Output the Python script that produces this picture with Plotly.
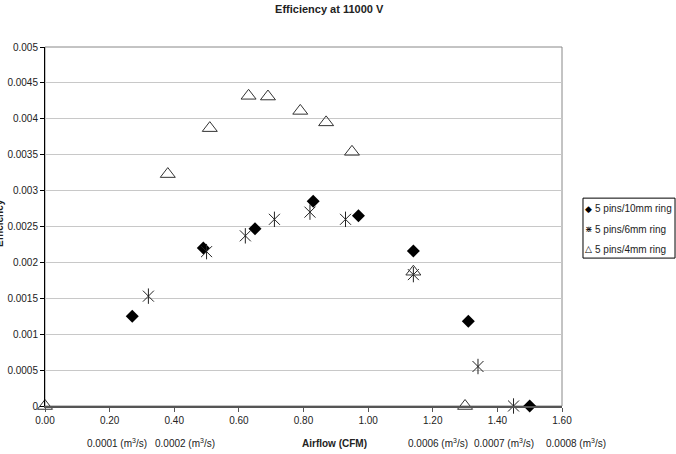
import plotly.graph_objects as go

# Data
x_10mm = [0.27, 0.49, 0.65, 0.83, 0.97, 1.14, 1.31, 1.50]
y_10mm = [0.00125, 0.00220, 0.00247, 0.00285, 0.00265, 0.00216, 0.00118, 0.0]

x_6mm = [0.32, 0.50, 0.62, 0.71, 0.82, 0.93, 1.14, 1.34, 1.45]
y_6mm = [0.00153, 0.00215, 0.00237, 0.00260, 0.00270, 0.00260, 0.00183, 0.00055, 0.0]

x_4mm = [0.00, 0.38, 0.51, 0.63, 0.69, 0.79, 0.87, 0.95, 1.14, 1.30]
y_4mm = [0.0, 0.00323, 0.00387, 0.00432, 0.00431, 0.00411, 0.00395, 0.00354, 0.00187, 0.0]

series_names = ["5 pins/10mm ring", "5 pins/6mm ring", "5 pins/4mm ring"]
legend_symbols = ["◆", "⋇", "△"]

m3s_labels = ["0.0001 (m<sup>3</sup>/s)", "0.0002 (m<sup>3</sup>/s)", "0.0006 (m<sup>3</sup>/s)",
              "0.0007 (m<sup>3</sup>/s)", "0.0008 (m<sup>3</sup>/s)"]
# label positions as fractions of the plot width
m3s_pos = [0.139, 0.271, 0.760, 0.888, 1.027]

x_ticks = [0, 0.2, 0.4, 0.6, 0.8, 1.0, 1.2, 1.4, 1.6]
y_ticks = [0, 0.0005, 0.001, 0.0015, 0.002, 0.0025, 0.003, 0.0035, 0.004, 0.0045, 0.005]

FONT = "Liberation Sans, Arial, sans-serif"

fig = go.Figure()
fig.add_trace(go.Scatter(
    x=x_10mm, y=y_10mm, mode="markers", name=series_names[0],
    marker=dict(symbol="diamond", size=10, color="black"), cliponaxis=False))
fig.add_trace(go.Scatter(
    x=x_6mm, y=y_6mm, mode="markers", name=series_names[1],
    marker=dict(symbol="x-thin-open", size=11, color="#222222", line=dict(width=1, color="#222222")),
    cliponaxis=False))
fig.add_trace(go.Scatter(
    x=x_6mm, y=y_6mm, mode="markers", name=series_names[1],
    marker=dict(symbol="line-ns-open", size=11, color="#222222", line=dict(width=1, color="#222222")),
    cliponaxis=False))
fig.add_trace(go.Scatter(
    x=x_4mm, y=y_4mm, mode="markers", name=series_names[2],
    marker=dict(symbol="triangle-up-open", size=13, color="#333333", line=dict(width=1, color="#333333")),
    cliponaxis=False))

annotations = [
    dict(x=p, y=0, xref="paper", yref="paper", yshift=-37, text=t, showarrow=False,
         font=dict(family=FONT, size=10, color="#222222"), xanchor="center", yanchor="middle")
    for p, t in zip(m3s_pos, m3s_labels)
]
annotations.append(dict(x=0.56, y=0, xref="paper", yref="paper", yshift=-37, text="<b>Airflow (CFM)</b>",
                        showarrow=False, font=dict(family=FONT, size=10, color="#222222"),
                        xanchor="center", yanchor="middle"))
annotations.append(dict(x=0, y=0.51, xref="paper", yref="paper", xshift=-45, text="<b>Efficiency</b>",
                        textangle=-90, showarrow=False, font=dict(family=FONT, size=10, color="#222222"),
                        xanchor="center", yanchor="middle"))

# manual legend (entries in a box to the right of the plot)
leg_y = [0.549, 0.493, 0.437]
for sym, name, yy in zip(legend_symbols, series_names, leg_y):
    annotations.append(dict(x=1.0406, y=yy, xref="paper", yref="paper", xshift=6, text=sym,
                            showarrow=False, xanchor="center", yanchor="middle",
                            font=dict(family="DejaVu Sans", size=9, color="black")))
    annotations.append(dict(x=1.0406, y=yy, xref="paper", yref="paper", xshift=10, text=name,
                            showarrow=False, xanchor="left", yanchor="middle",
                            font=dict(family=FONT, size=10, color="#222222")))

fig.update_layout(
    width=676, height=454,
    margin=dict(l=45, r=114, t=47, b=48, autoexpand=False),
    paper_bgcolor="white", plot_bgcolor="white",
    title=dict(text="<b>Efficiency at 11000 V</b>", x=0.487, xanchor="center", y=0.980, yanchor="middle",
               font=dict(family=FONT, size=11, color="#222222")),
    font=dict(family=FONT, size=10, color="#222222"),
    showlegend=False,
    annotations=annotations,
)
fig.update_xaxes(range=[0, 1.6], tickvals=x_ticks, ticktext=[f"{v:.2f}" for v in x_ticks],
                 showgrid=False, zeroline=False, showline=True, linecolor="#555555", linewidth=2,
                 ticks="outside", ticklen=4, tickcolor="#555555", mirror=False,
                 tickfont=dict(family=FONT, size=10, color="#222222"))
fig.update_yaxes(range=[0, 0.005], tickvals=y_ticks, ticktext=[f"{v:g}" for v in y_ticks],
                 showgrid=True, gridcolor="#c8c8c8", gridwidth=1, zeroline=False,
                 showline=True, linecolor="black", linewidth=1, ticks="outside", ticklen=4,
                 tickcolor="black", tickfont=dict(family=FONT, size=10, color="#222222"))
# plot-area border (top/right)
fig.add_shape(type="rect", xref="paper", yref="paper", x0=0, y0=0, x1=1, y1=1,
              line=dict(color="#888888", width=1), layer="below")
# legend box
fig.add_shape(type="rect", xref="paper", yref="paper", x0=1.0406, y0=0.412, x1=1.2186, y1=0.579,
              line=dict(color="black", width=1), fillcolor="rgba(0,0,0,0)")

fig.write_html("out.html")
